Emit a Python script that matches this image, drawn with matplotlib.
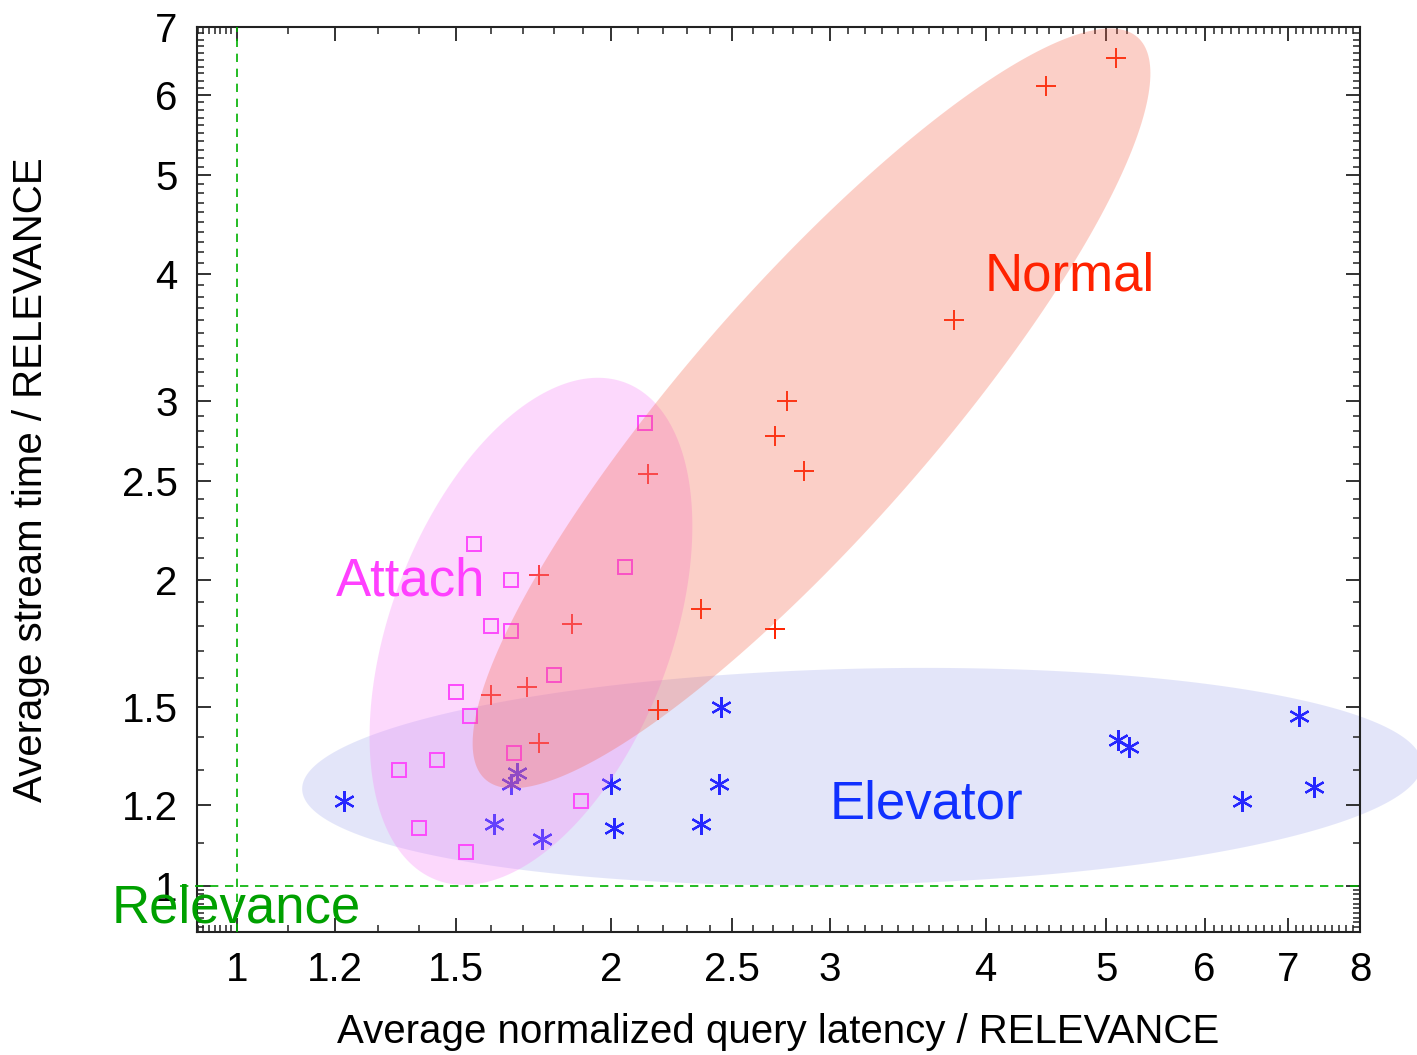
import numpy as np
import matplotlib
matplotlib.use("Agg")
import matplotlib.pyplot as plt

plt.rcParams['font.family'] = ['Liberation Sans', 'DejaVu Sans']

# Attach (open squares)
attach_x = [2.13, 1.55, 1.66, 2.05, 1.60, 1.66, 1.80, 1.50, 1.54, 1.67, 1.45, 1.35, 1.89, 1.40, 1.53]
attach_y = [2.85, 2.17, 2.00, 2.06, 1.80, 1.78, 1.61, 1.55, 1.47, 1.35, 1.33, 1.30, 1.21, 1.14, 1.08]

# Normal (plus)
normal_x = [5.09, 4.47, 3.77, 2.77, 2.71, 2.86, 2.14, 1.75, 2.36, 1.86, 2.71, 1.60, 1.71, 2.18, 1.75]
normal_y = [6.52, 6.12, 3.60, 3.00, 2.77, 2.56, 2.54, 2.02, 1.87, 1.81, 1.79, 1.54, 1.57, 1.49, 1.38]

# Elevator (asterisk)
elev_x = [1.22, 1.68, 1.66, 2.00, 2.45, 2.44, 1.61, 2.01, 2.36, 1.76, 5.11, 5.22, 7.15, 6.43, 7.35]
elev_y = [1.21, 1.29, 1.26, 1.26, 1.50, 1.26, 1.15, 1.14, 1.15, 1.11, 1.39, 1.37, 1.47, 1.21, 1.25]

xticks = [1, 1.2, 1.5, 2, 2.5, 3, 4, 5, 6, 7, 8]
yticks = [1, 1.2, 1.5, 2, 2.5, 3, 4, 5, 6, 7]
xlim = (0.929, 8)
ylim = (0.9, 7)

fig = plt.figure(figsize=(14.17, 10.55), dpi=100)
ax = fig.add_axes([197 / 1417, 1 - 932 / 1055, (1360 - 197) / 1417, (932 - 27) / 1055])
ax.set_xscale('log')
ax.set_yscale('log')
ax.set_xlim(*xlim)
ax.set_ylim(*ylim)

# pixels per natural-log unit, used to draw ellipses that look round on screen
bbox = ax.get_position()
kx = bbox.width * fig.get_figwidth() * fig.dpi / np.log(xlim[1] / xlim[0])
ky = bbox.height * fig.get_figheight() * fig.dpi / np.log(ylim[1] / ylim[0])


def blob(cx, cy, a, b, ang, color, z):
    t = np.linspace(0, 2 * np.pi, 300)
    th = np.radians(ang)
    du = a * np.cos(t) * np.cos(th) - b * np.sin(t) * np.sin(th)
    dv = a * np.cos(t) * np.sin(th) + b * np.sin(t) * np.cos(th)
    ax.fill(cx * np.exp(du / kx), cy * np.exp(dv / ky), color=color,
            alpha=0.3, lw=0, zorder=z, clip_on=False)


ax.plot(attach_x, attach_y, ls='none', marker='s', ms=10, mfc='none',
        mec='#ff33ff', mew=1.4, zorder=2)
ax.plot(normal_x, normal_y, ls='none', marker='+', ms=14, mec='#ff2000',
        mew=1.4, zorder=2)
ax.plot(elev_x, elev_y, ls='none', marker=(6, 2, 0), ms=15, mec='#2626ff',
        mew=1.6, zorder=2)

blob(3.182, 1.280, 560, 108, 1.3, '#a5acee', 1)
blob(1.724, 1.779, 266, 140, 69.2, '#f880f8', 3)
blob(2.898, 2.949, 494, 123, 48.7, '#f56248', 3)

# relevance reference lines
ax.plot([1, 1], [0.9, 7], color='#00b000', ls=(0, (5, 4)), lw=1.2, zorder=4, clip_on=False)
ax.plot([0.9, 8], [1, 1], color='#00b000', ls=(0, (5, 4)), lw=1.2, zorder=4, clip_on=False)

ax.text(3.995, 3.855, 'Normal', color='#ff2200', fontsize=38, va='baseline', zorder=5)
ax.text(1.201, 1.930, 'Attach', color='#ff40ff', fontsize=38, va='baseline', zorder=5)
ax.text(2.999, 1.164, 'Elevator', color='#1030ff', fontsize=38, va='baseline', zorder=5)
ax.text(0.793, 0.9195, 'Relevance', color='#00a000', fontsize=38, va='baseline',
        zorder=5, clip_on=False)

ax.set_xticks(xticks)
ax.set_xticklabels([f'{v:g}' for v in xticks])
ax.set_yticks(yticks)
ax.set_yticklabels([f'{v:g}' for v in yticks])
xminor = [v for v in np.round(np.concatenate([np.arange(0.93, 1.0, 0.01), np.arange(1.1, 8.0, 0.1)]), 2)
          if v not in xticks]
yminor = [v for v in np.round(np.concatenate([np.arange(0.91, 1.0, 0.01), np.arange(1.1, 7.0, 0.1)]), 2)
          if v not in yticks]
ax.set_xticks(xminor, minor=True)
ax.set_yticks(yminor, minor=True)
ax.xaxis.set_minor_formatter(matplotlib.ticker.NullFormatter())
ax.yaxis.set_minor_formatter(matplotlib.ticker.NullFormatter())
ax.tick_params(which='both', direction='in', top=True, right=True, colors='#222222')
ax.tick_params(which='major', length=10, width=1.3, labelsize=29, pad=14, labelcolor='black')
ax.tick_params(which='minor', length=5, width=1.1)
for s in ax.spines.values():
    s.set_linewidth(1.5)
    s.set_color('#222222')

ax.set_xlabel('Average normalized query latency / RELEVANCE', fontsize=29)
ax.set_ylabel('Average stream time / RELEVANCE', fontsize=29)
ax.xaxis.set_label_coords(0.5, -0.0895)
ax.yaxis.set_label_coords(-0.126, 0.5)

fig.savefig('out.png', dpi=100)
